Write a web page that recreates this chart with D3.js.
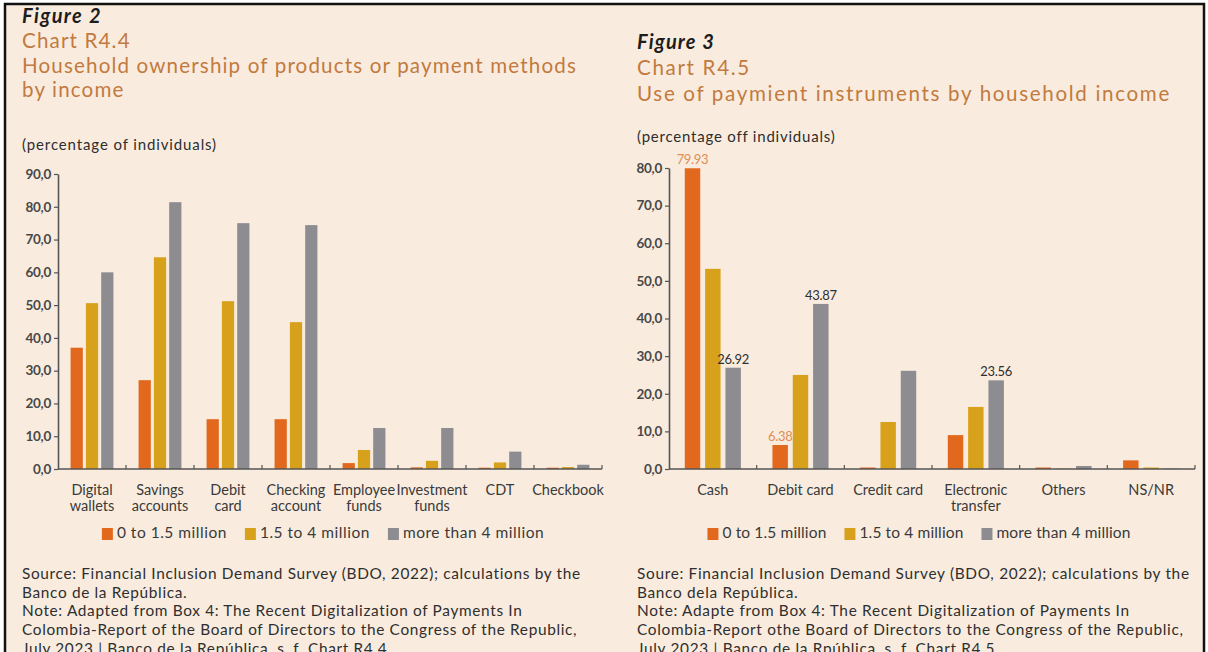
<!DOCTYPE html>
<html>
<head>
<meta charset="utf-8">
<script src="https://cdn.jsdelivr.net/npm/d3@7"></script>
<style>
  body { margin: 0; background: #ffffff; }
  svg text { font-family: Lato, "Open Sans", sans-serif; }
</style>
</head>
<body>
<div class="chart"></div>
<script>
// income groups (shared by both charts)
var seriesNames = ["0 to 1.5 million", "1.5 to 4 million", "more than 4 million"];
var seriesColors = ["#e2681d", "#d8a11c", "#8d8c91"];

// Chart R4.4 - ownership of products / payment methods
var ownCategories = [["Digital", "wallets"], ["Savings", "accounts"], ["Debit", "card"], ["Checking", "account"],
    ["Employee", "funds"], ["Investment", "funds"], ["CDT"], ["Checkbook"]];
var ownLow = [37.0, 27.1, 15.2, 15.2, 1.8, 0.5, 0.4, 0.4];
var ownMid = [50.6, 64.6, 51.2, 44.8, 5.8, 2.5, 2.0, 0.6];
var ownHigh = [60.0, 81.4, 75.0, 74.4, 12.5, 12.5, 5.3, 1.3];
var ownTicks = [0, 10, 20, 30, 40, 50, 60, 70, 80, 90];

// Chart R4.5 - use of payment instruments
var useCategories = [["Cash"], ["Debit card"], ["Credit card"], ["Electronic", "transfer"], ["Others"], ["NS/NR"]];
var useLow = [79.93, 6.38, 0.4, 9.0, 0.4, 2.3];
var useMid = [53.2, 25.0, 12.5, 16.5, 0.1, 0.4];
var useHigh = [26.92, 43.87, 26.1, 23.56, 0.8, 0.1];
var useTicks = [0, 10, 20, 30, 40, 50, 60, 70, 80];
// bars that carry a value label: [series index, category index]
var useLabelled = [[0, 0], [2, 0], [0, 1], [2, 1], [2, 3]];

var ownSource = ["Source: Financial Inclusion Demand Survey (BDO, 2022); calculations by the",
    "Banco de la República.",
    "Note: Adapted from Box 4: The Recent Digitalization of Payments In",
    "Colombia-Report of the Board of Directors to the Congress of the Republic,",
    "July 2023 | Banco de la República, s. f. Chart R4.4."];
var useSource = ["Soure: Financial Inclusion Demand Survey (BDO, 2022); calculations by the",
    "Banco dela República.",
    "Note: Adapte from Box 4: The Recent Digitalization of Payments In",
    "Colombia-Report othe Board of Directors to the Congress of the Republic,",
    "July 2023 | Banco de la Rpública, s. f. Chart R4.5."];

var svgWidth = 1208;
var svgHeight = 652;
var bg = "#f9ecdf";
var titleColor = "#c27a40";
var inkColor = "#3a3a3a";

var svg = d3.select(".chart")
    .append("svg")
    .attr("width", svgWidth)
    .attr("height", svgHeight);

// frame of the scanned page
svg.append("rect")
    .attr("x", 5)
    .attr("y", 4)
    .attr("width", 1199)
    .attr("height", 670)
    .attr("fill", bg)
    .attr("stroke", "#111")
    .attr("stroke-width", 2.5);

var comma = d3.formatLocale({ decimal: ",", thousands: ".", grouping: [3], currency: ["", ""] }).format(".1f");

// size a group of lines from one measured line; past maxFs open the tracking instead
function fitText(sel, refNode, targetWidth, maxFs) {
    var fs = parseFloat(refNode.getAttribute("font-size"));
    var w = refNode.getComputedTextLength();
    var nfs = fs * targetWidth / w;
    if (maxFs && nfs > maxFs) {
        sel.attr("font-size", maxFs);
        var w2 = refNode.getComputedTextLength();
        sel.attr("letter-spacing", ((targetWidth - w2) / refNode.textContent.length).toFixed(3));
    } else {
        sel.attr("font-size", nfs.toFixed(2));
    }
}

function drawPanel(p) {
    var g = svg.append("g");

    // heading block
    var fig = g.append("text")
        .attr("x", p.textX).attr("y", p.figY)
        .attr("font-size", 18).attr("font-weight", 700).attr("font-style", "italic")
        .attr("fill", "#1d1d1d")
        .text(p.figure);
    fitText(fig, fig.node(), p.figW, 20);

    var titles = g.selectAll(".title")
        .data(p.titleLines)
        .enter()
        .append("text")
        .attr("class", "title")
        .attr("x", p.textX)
        .attr("y", function(d, i) { return p.titleY[i]; })
        .attr("font-size", 20)
        .attr("fill", titleColor)
        .text(function(d) { return d; });
    fitText(titles, titles.nodes()[1], p.titleW, 20.6);

    var unit = g.append("text")
        .attr("x", p.textX).attr("y", p.unitY)
        .attr("font-size", 14)
        .attr("fill", "#2e2e2e")
        .text(p.unit);
    fitText(unit, unit.node(), p.unitW, 15);

    // scales
    var x0 = d3.scaleBand()
        .domain(d3.range(p.categories.length))
        .range([p.left, p.right])
        .paddingInner(p.groupPad)
        .paddingOuter(p.groupPad / 2);
    var x1 = d3.scaleBand()
        .domain([0, 1, 2])
        .range([0, x0.bandwidth()])
        .paddingInner(p.barPad);
    var y = d3.scaleLinear()
        .domain([0, p.max])
        .range([p.bottom, p.top]);

    var series = [p.low, p.mid, p.high];

    // bars
    var groups = g.selectAll(".group")
        .data(p.categories)
        .enter()
        .append("g")
        .attr("class", "group")
        .attr("transform", function(d, i) { return "translate(" + x0(i) + ",0)"; });

    groups.selectAll("rect")
        .data(function(d, i) {
            return series.map(function(s, k) { return { k: k, v: s[i] }; });
        })
        .enter()
        .append("rect")
        .attr("x", function(d) { return x1(d.k); })
        .attr("width", x1.bandwidth())
        .attr("y", function(d) { return y(d.v); })
        .attr("height", function(d) { return y(0) - y(d.v); })
        .attr("fill", function(d) { return seriesColors[d.k]; });

    // value labels
    if (p.labelled) {
        g.selectAll(".vlabel")
            .data(p.labelled)
            .enter()
            .append("text")
            .attr("class", "vlabel")
            .attr("x", function(d) { return x0(d[1]) + x1(d[0]) + x1.bandwidth() / 2; })
            .attr("y", function(d) { return y(series[d[0]][d[1]]) - 4; })
            .attr("text-anchor", "middle")
            .attr("font-size", 13)
            .attr("letter-spacing", -0.3)
            .attr("fill", function(d) { return d[0] === 0 ? "#e08d55" : "#2f2f2f"; })
            .text(function(d) { return d3.format(".2f")(series[d[0]][d[1]]); });
    }

    // y axis
    var yAxis = g.append("g")
        .attr("transform", "translate(" + p.left + ",0)")
        .call(d3.axisLeft(y).tickValues(p.ticks).tickFormat(comma).tickSize(4).tickSizeOuter(0).tickPadding(3));
    yAxis.select(".domain").attr("stroke", "#555").attr("stroke-width", 1.6);
    yAxis.selectAll(".tick line").attr("stroke", "#555").attr("stroke-width", 1.2);
    yAxis.selectAll(".tick text")
        .attr("font-size", 13.5)
        .attr("font-weight", 700)
        .attr("fill", "#484848")
        .attr("font-family", "Lato, sans-serif")
        .attr("letter-spacing", -0.3);

    // x axis: base line with little upward marks between the groups
    var step = x0.step();
    var bounds = d3.range(1, p.categories.length + 1).map(function(i) { return p.left + i * step; });
    g.append("line")
        .attr("x1", p.left).attr("x2", p.right)
        .attr("y1", y(0)).attr("y2", y(0))
        .attr("stroke", "#555").attr("stroke-width", 1.6);
    g.selectAll(".bound")
        .data(bounds)
        .enter()
        .append("line")
        .attr("class", "bound")
        .attr("x1", function(d) { return d; }).attr("x2", function(d) { return d; })
        .attr("y1", y(0)).attr("y2", y(0) - 4)
        .attr("stroke", "#555").attr("stroke-width", 1.2);

    // category labels
    var cats = g.selectAll(".cat")
        .data(p.categories)
        .enter()
        .append("text")
        .attr("class", "cat")
        .attr("text-anchor", "middle")
        .attr("font-size", 14.5)
        .attr("fill", inkColor)
        .attr("x", function(d, i) { return x0(i) + x0.bandwidth() / 2; })
        .attr("y", p.bottom + 26);
    cats.selectAll("tspan")
        .data(function(d) { return d; })
        .enter()
        .append("tspan")
        .attr("x", function() { return d3.select(this.parentNode).attr("x"); })
        .attr("dy", function(d, i) { return i === 0 ? 0 : 16; })
        .text(function(d) { return d; });

    // legend, centred under the chart
    var legend = g.append("g");
    var items = legend.selectAll(".item")
        .data(seriesNames)
        .enter()
        .append("g")
        .attr("class", "item");
    items.append("rect")
        .attr("width", 11).attr("height", 12)
        .attr("y", -10)
        .attr("fill", function(d, i) { return seriesColors[i]; });
    var ltext = items.append("text")
        .attr("x", 15)
        .attr("font-size", 14)
        .attr("fill", inkColor)
        .text(function(d) { return d; });
    fitText(ltext, ltext.nodes()[0], p.legendW, 15.5);
    var cursor = 0;
    items.each(function() {
        var w = this.getBBox().width;
        d3.select(this).attr("transform", "translate(" + cursor + ",0)");
        cursor += w + 18;
    });
    var legendW = cursor - 18;
    legend.attr("transform", "translate(" + (p.legendCx - legendW / 2) + "," + p.legendY + ")");

    // source and note
    var src = g.selectAll(".src")
        .data(p.source)
        .enter()
        .append("text")
        .attr("class", "src")
        .attr("x", p.textX)
        .attr("y", function(d, i) { return p.sourceY + i * 18.7; })
        .attr("font-size", 15)
        .attr("fill", "#2f2f2f")
        .text(function(d) { return d; });
    fitText(src, src.nodes()[0], p.sourceW, 15.4);
}

drawPanel({
    figure: "Figure 2", figY: 23, figW: 80,
    titleLines: ["Chart R4.4", "Household ownership of products or payment methods", "by income"],
    titleY: [48, 73, 97], titleW: 555,
    unit: "(percentage of individuals)", unitY: 150, unitW: 195,
    textX: 22,
    categories: ownCategories, low: ownLow, mid: ownMid, high: ownHigh,
    ticks: ownTicks, max: 90,
    left: 58, right: 602, top: 174, bottom: 469,
    groupPad: 0.37, barPad: 0.2,
    legendCx: 323, legendY: 538, legendW: 110,
    source: ownSource, sourceY: 579, sourceW: 559
});

drawPanel({
    figure: "Figure 3", figY: 49, figW: 78,
    titleLines: ["Chart R4.5", "Use of paymient instruments by household income"],
    titleY: [75, 101], titleW: 534,
    unit: "(percentage off individuals)", unitY: 142, unitW: 198,
    textX: 637,
    categories: useCategories, low: useLow, mid: useMid, high: useHigh,
    ticks: useTicks, max: 80, labelled: useLabelled,
    left: 669, right: 1195, top: 168, bottom: 469,
    groupPad: 0.36, barPad: 0.24,
    legendCx: 919, legendY: 538, legendW: 104,
    source: useSource, sourceY: 579, sourceW: 553
});
</script>
</body>
</html>
